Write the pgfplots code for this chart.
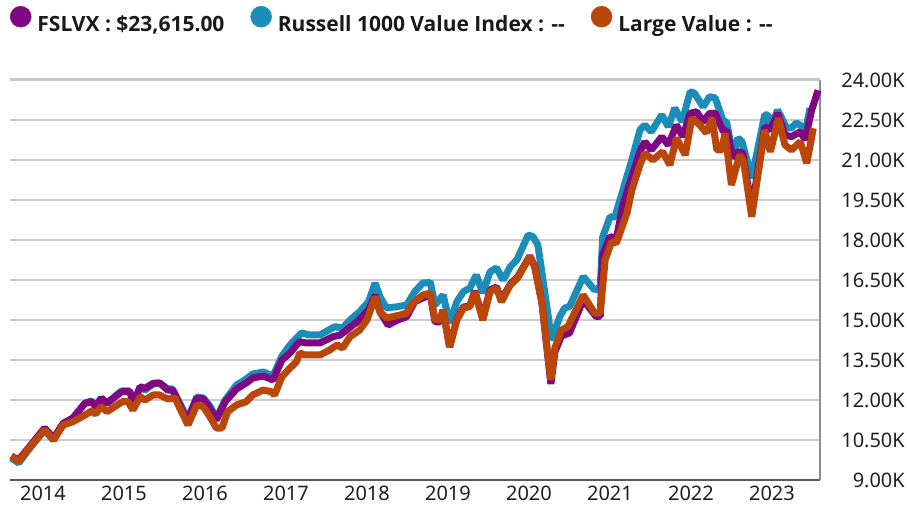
\documentclass[border=0pt]{standalone}
\usepackage{fontspec}
\setmainfont{Noto Sans}
\newfontfamily\legfont{Open Sans}
\usepackage{pgfplots}
\pgfplotsset{compat=1.18}
\definecolor{fsl}{RGB}{128,8,128}
\definecolor{rus}{RGB}{27,141,184}
\definecolor{lv}{RGB}{186,70,10}
\definecolor{gridc}{RGB}{204,204,204}

\begin{document}
\begin{tikzpicture}
\useasboundingbox (0,0) rectangle (907pt,514pt);
\begin{axis}[
  at={(10pt,34pt)}, anchor=south west,
  scale only axis, width=810pt, height=400pt,
  xmin=2013.593, xmax=2023.593,
  ymin=9000, ymax=24000,
  scaled y ticks=false, scaled x ticks=false,
  clip=false,
  axis x line*=bottom, axis y line*=right,
  x axis line style={draw=black!65, line width=1.6pt, -},
  y axis line style={draw=black!45, line width=1.2pt, -},
  xtick={2014,2015,2016,2017,2018,2019,2020,2021,2022,2023},
  xticklabels={2014,2015,2016,2017,2018,2019,2020,2021,2022,2023},
  ytick={9000,10500,12000,13500,15000,16500,18000,19500,21000,22500,24000},
  yticklabels={9.00K,10.50K,12.00K,13.50K,15.00K,16.50K,18.00K,19.50K,21.00K,22.50K,24.00K},
  major tick length=0pt,
  ymajorgrids, grid style={draw=gridc, line width=1.2pt},
  extra y ticks={24000}, extra y tick labels={},
  extra y tick style={grid style={draw=black!22, line width=3pt}},
  tick label style={font=\fontsize{20}{24}\selectfont, text=black!88, inner sep=0pt},
  xticklabel style={yshift=-6pt},
  yticklabel style={anchor=east, xshift=85pt},
  legend columns=3,
  legend cell align=left,
  legend style={at={(0,1)}, anchor=north west, yshift=74pt, draw=none, fill=none,
    inner sep=0pt, outer sep=0pt,
    nodes={inner sep=0pt, text=black!90, font=\legfont\fontsize{21}{25}\selectfont\bfseries},
    /tikz/every odd column/.append style={column sep=6pt},
    /tikz/every even column/.append style={column sep=26pt}},
]
\addlegendimage{legend image code/.code={\fill[fsl] (10.5pt,8pt) circle (10.5pt);}}
\addlegendentry{FSLVX : \$23,615.00}
\addlegendimage{legend image code/.code={\fill[rus] (10.5pt,8pt) circle (10.5pt);}}
\addlegendentry{Russell 1000 Value Index : -{}-}
\addlegendimage{legend image code/.code={\fill[lv] (10.5pt,8pt) circle (10.5pt);}}
\addlegendentry{Large Value : -{}-}

% Russell 1000 Value Index
\addplot[forget plot, rus, line width=7pt, line join=bevel] coordinates {
(2013.61,9825) (2013.70,9638) (2013.84,10200) (2014.02,10875) (2014.13,10500)
(2014.25,11100) (2014.37,11325) (2014.52,11888) (2014.60,11963) (2014.65,11775)
(2014.72,12075) (2014.79,11888) (2014.97,12338) (2015.07,12338) (2015.12,11925)
(2015.20,12488) (2015.26,12375) (2015.36,12600) (2015.44,12638) (2015.54,12413)
(2015.60,12413) (2015.73,11625) (2015.79,11325) (2015.90,12113) (2015.98,12075)
(2016.06,11775) (2016.14,11325) (2016.25,12000) (2016.39,12563) (2016.51,12788)
(2016.59,12975) (2016.72,13050) (2016.84,12900) (2016.95,13650) (2017.05,14063)
(2017.19,14513) (2017.29,14438) (2017.42,14438) (2017.60,14749) (2017.70,14700)
(2017.79,15000) (2017.91,15311) (2018.02,15686) (2018.10,16388) (2018.16,15874)
(2018.24,15450) (2018.38,15499) (2018.49,15563) (2018.59,16061) (2018.69,16388)
(2018.75,16388) (2018.78,16436) (2018.84,15563) (2018.94,15938) (2019.02,14888)
(2019.11,15686) (2019.19,16061) (2019.27,16200) (2019.35,16688) (2019.43,16013)
(2019.52,16811) (2019.60,16950) (2019.68,16500) (2019.77,16999) (2019.85,17250)
(2019.99,18188) (2020.05,18124) (2020.11,17813) (2020.28,14250) (2020.38,15124)
(2020.44,15450) (2020.50,15499) (2020.67,16624) (2020.81,16125) (2020.88,16238)
(2020.91,18113) (2021.00,18863) (2021.06,18863) (2021.16,19875) (2021.27,21000)
(2021.37,22125) (2021.43,22313) (2021.51,22061) (2021.64,22688) (2021.72,22249)
(2021.80,22950) (2021.89,22436) (2021.99,23561) (2022.04,23513) (2022.15,22999)
(2022.23,23374) (2022.30,23325) (2022.40,22436) (2022.44,22436) (2022.52,21124)
(2022.58,21825) (2022.63,21686) (2022.75,20325) (2022.91,22688) (2022.95,22688)
(2022.99,22200) (2023.07,22875) (2023.18,22200) (2023.24,22200) (2023.30,22388)
(2023.38,22249) (2023.41,22013) (2023.47,22950)
};

% FSLVX
\addplot[forget plot, fsl, line width=7pt, line join=bevel] coordinates {
(2013.61,9900) (2013.70,9750) (2013.84,10275) (2014.02,10950) (2014.13,10575)
(2014.25,11126) (2014.37,11325) (2014.52,11876) (2014.60,11936) (2014.65,11738)
(2014.72,12064) (2014.79,11876) (2014.97,12311) (2015.07,12311) (2015.12,11876)
(2015.20,12499) (2015.26,12439) (2015.36,12626) (2015.44,12638) (2015.54,12375)
(2015.60,12375) (2015.73,11561) (2015.79,11250) (2015.90,12075) (2015.98,12038)
(2016.06,11700) (2016.14,11250) (2016.25,11936) (2016.39,12413) (2016.51,12638)
(2016.59,12825) (2016.72,12900) (2016.84,12750) (2016.95,13500) (2017.05,13763)
(2017.13,14063) (2017.17,14186) (2017.25,14138) (2017.42,14138) (2017.58,14374)
(2017.67,14438) (2017.75,14625) (2017.88,14936) (2018.02,15375) (2018.10,15938)
(2018.16,15311) (2018.26,14813) (2018.38,15000) (2018.49,15124) (2018.59,15686)
(2018.69,15825) (2018.75,15900) (2018.78,15975) (2018.84,14925) (2018.90,14925)
(2018.94,15375) (2019.02,13988) (2019.11,15038) (2019.19,15488) (2019.27,15525)
(2019.33,16088) (2019.43,15075) (2019.52,16125) (2019.60,16238) (2019.66,15750)
(2019.77,16350) (2019.86,16613) (2020.01,17400) (2020.07,17025) (2020.16,15638)
(2020.27,12600) (2020.32,13800) (2020.40,14400) (2020.50,14513) (2020.67,15750)
(2020.83,15124) (2020.88,15150) (2020.91,17438) (2021.00,18124) (2021.08,18075)
(2021.16,19313) (2021.27,20374) (2021.37,21311) (2021.43,21686) (2021.51,21375)
(2021.64,21874) (2021.72,21563) (2021.82,22313) (2021.90,21874) (2021.99,22751)
(2022.07,22811) (2022.15,22436) (2022.23,22751) (2022.30,22751) (2022.40,22061)
(2022.44,22125) (2022.52,21075) (2022.58,21311) (2022.64,21263) (2022.75,19125)
(2022.91,22249) (2022.98,22125) (2023.07,22751) (2023.16,21938) (2023.24,21874)
(2023.35,22061) (2023.41,21750) (2023.49,22875) (2023.57,23615)
};

% Large Value
\addplot[forget plot, lv, line width=7pt, line join=bevel] coordinates {
(2013.61,9900) (2013.70,9686) (2013.84,10238) (2014.02,10875) (2014.13,10500)
(2014.25,11063) (2014.37,11186) (2014.52,11438) (2014.60,11588) (2014.65,11475)
(2014.72,11749) (2014.79,11561) (2014.98,11936) (2015.05,11936) (2015.11,11625)
(2015.20,12124) (2015.26,12000) (2015.36,12188) (2015.44,12188) (2015.54,12038)
(2015.63,12075) (2015.73,11438) (2015.79,11063) (2015.90,11813) (2015.98,11749)
(2016.06,11374) (2016.14,10950) (2016.21,10950) (2016.28,11561) (2016.39,11813)
(2016.51,11936) (2016.59,12188) (2016.72,12375) (2016.82,12311) (2016.86,12188)
(2016.95,12874) (2017.05,13200) (2017.13,13436) (2017.17,13763) (2017.23,13688)
(2017.42,13688) (2017.54,13875) (2017.63,14063) (2017.70,13950) (2017.79,14374)
(2017.91,14625) (2018.00,15000) (2018.10,15874) (2018.16,15311) (2018.24,15075)
(2018.41,15188) (2018.49,15263) (2018.57,15638) (2018.69,15938) (2018.78,16013)
(2018.84,15000) (2018.90,15000) (2018.94,15375) (2019.02,13999) (2019.11,15000)
(2019.19,15450) (2019.27,15499) (2019.33,16061) (2019.43,15000) (2019.52,16061)
(2019.60,16200) (2019.66,15686) (2019.77,16313) (2019.86,16575) (2020.01,17374)
(2020.07,16999) (2020.16,15638) (2020.27,12750) (2020.32,13950) (2020.40,14625)
(2020.48,14749) (2020.67,15938) (2020.81,15263) (2020.88,15263) (2020.94,17250)
(2021.02,17936) (2021.08,17888) (2021.21,19013) (2021.27,19875) (2021.37,20813)
(2021.43,21263) (2021.53,21000) (2021.65,21311) (2021.74,20813) (2021.82,21825)
(2021.93,21188) (2022.01,22564) (2022.11,22313) (2022.19,22013) (2022.26,22564)
(2022.32,21375) (2022.38,21375) (2022.42,22001) (2022.50,20063) (2022.60,21188)
(2022.65,20936) (2022.75,18874) (2022.91,22125) (2022.98,21311) (2023.08,22564)
(2023.16,21563) (2023.24,21375) (2023.35,21686) (2023.43,20876) (2023.51,22189)
};
\end{axis}
\end{tikzpicture}
\end{document}
